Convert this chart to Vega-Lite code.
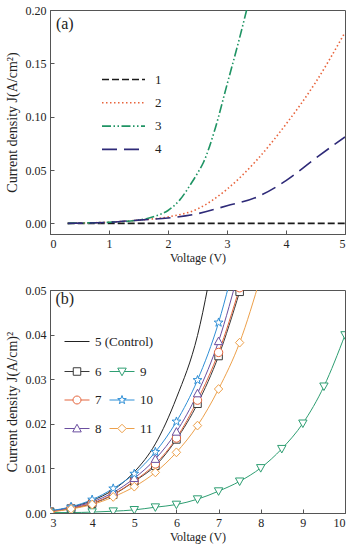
{
  "$schema": "https://vega.github.io/schema/vega-lite/v6.json",
  "background": "white",
  "padding": {"left": 4, "top": 3, "right": 5, "bottom": 3},
  "spacing": 19,
  "config": {
    "font": "Liberation Serif",
    "view": {"stroke": "#555", "strokeWidth": 1},
    "axis": {"grid": false, "domainColor": "#555", "tickColor": "#555", "tickSize": -4, "labelFont": "Liberation Serif", "labelFontSize": 12, "labelColor": "#222", "titleFont": "Liberation Serif", "titleFontSize": 12, "titleFontWeight": "normal", "titleColor": "#222", "labelPadding": 8},
    "legend": {"labelFont": "Liberation Serif", "labelFontSize": 13, "labelColor": "#222"}
  },
  "datasets": {
    "a": [
      {"curve": "1", "v": 0.3, "j": 0}, {"curve": "1", "v": 5, "j": 0},
      {"curve": "2", "v": 0.3, "j": 0}, {"curve": "2", "v": 0.7, "j": 0.0005}, {"curve": "2", "v": 1.0, "j": 0.001}, {"curve": "2", "v": 1.5, "j": 0.003}, {"curve": "2", "v": 2.0, "j": 0.006}, {"curve": "2", "v": 2.5, "j": 0.0135}, {"curve": "2", "v": 3.0, "j": 0.032}, {"curve": "2", "v": 3.5, "j": 0.059}, {"curve": "2", "v": 4.0, "j": 0.093}, {"curve": "2", "v": 4.5, "j": 0.132}, {"curve": "2", "v": 5.0, "j": 0.179},
      {"curve": "3", "v": 0.3, "j": 0}, {"curve": "3", "v": 0.7, "j": 0.0005}, {"curve": "3", "v": 1.0, "j": 0.001}, {"curve": "3", "v": 1.5, "j": 0.003}, {"curve": "3", "v": 1.8, "j": 0.007}, {"curve": "3", "v": 2.0, "j": 0.012}, {"curve": "3", "v": 2.2, "j": 0.022}, {"curve": "3", "v": 2.4, "j": 0.038}, {"curve": "3", "v": 2.5, "j": 0.047}, {"curve": "3", "v": 2.6, "j": 0.057}, {"curve": "3", "v": 2.8, "j": 0.089}, {"curve": "3", "v": 3.0, "j": 0.13}, {"curve": "3", "v": 3.2, "j": 0.171}, {"curve": "3", "v": 3.4, "j": 0.215},
      {"curve": "4", "v": 0.3, "j": 0}, {"curve": "4", "v": 1.0, "j": 0.001}, {"curve": "4", "v": 1.5, "j": 0.003}, {"curve": "4", "v": 2.0, "j": 0.005}, {"curve": "4", "v": 2.5, "j": 0.009}, {"curve": "4", "v": 3.0, "j": 0.0165}, {"curve": "4", "v": 3.5, "j": 0.0245}, {"curve": "4", "v": 4.0, "j": 0.04}, {"curve": "4", "v": 4.5, "j": 0.061}, {"curve": "4", "v": 5.0, "j": 0.081}
    ],
    "b": [
      {"device": "5", "v": 3.0, "j": 0.0004}, {"device": "5", "v": 3.5, "j": 0.0013}, {"device": "5", "v": 4.0, "j": 0.0028}, {"device": "5", "v": 4.5, "j": 0.0052}, {"device": "5", "v": 5.0, "j": 0.0092}, {"device": "5", "v": 5.5, "j": 0.0155}, {"device": "5", "v": 6.0, "j": 0.0258}, {"device": "5", "v": 6.5, "j": 0.0398}, {"device": "5", "v": 7.0, "j": 0.064},
      {"device": "6", "v": 3.0, "j": 0.0003}, {"device": "6", "v": 3.5, "j": 0.001}, {"device": "6", "v": 4.0, "j": 0.0021}, {"device": "6", "v": 4.5, "j": 0.0041}, {"device": "6", "v": 5.0, "j": 0.0071}, {"device": "6", "v": 5.5, "j": 0.0106}, {"device": "6", "v": 6.0, "j": 0.0165}, {"device": "6", "v": 6.5, "j": 0.0245}, {"device": "6", "v": 7.0, "j": 0.0352}, {"device": "6", "v": 7.5, "j": 0.0496},
      {"device": "7", "v": 3.0, "j": 0.0003}, {"device": "7", "v": 3.5, "j": 0.0011}, {"device": "7", "v": 4.0, "j": 0.0022}, {"device": "7", "v": 4.5, "j": 0.0042}, {"device": "7", "v": 5.0, "j": 0.0072}, {"device": "7", "v": 5.5, "j": 0.011}, {"device": "7", "v": 6.0, "j": 0.0168}, {"device": "7", "v": 6.5, "j": 0.0253}, {"device": "7", "v": 7.0, "j": 0.036}, {"device": "7", "v": 7.5, "j": 0.0505},
      {"device": "8", "v": 3.0, "j": 0.0004}, {"device": "8", "v": 3.5, "j": 0.0012}, {"device": "8", "v": 4.0, "j": 0.0025}, {"device": "8", "v": 4.5, "j": 0.0046}, {"device": "8", "v": 5.0, "j": 0.0078}, {"device": "8", "v": 5.5, "j": 0.0121}, {"device": "8", "v": 6.0, "j": 0.0182}, {"device": "8", "v": 6.5, "j": 0.0268}, {"device": "8", "v": 7.0, "j": 0.0385}, {"device": "8", "v": 7.5, "j": 0.055},
      {"device": "9", "v": 3.0, "j": 0.0001}, {"device": "9", "v": 3.5, "j": 0.0001}, {"device": "9", "v": 4.0, "j": 0.0002}, {"device": "9", "v": 4.5, "j": 0.0004}, {"device": "9", "v": 5.0, "j": 0.0007}, {"device": "9", "v": 5.5, "j": 0.0013}, {"device": "9", "v": 6.0, "j": 0.0019}, {"device": "9", "v": 6.5, "j": 0.0031}, {"device": "9", "v": 7.0, "j": 0.0049}, {"device": "9", "v": 7.5, "j": 0.0071}, {"device": "9", "v": 8.0, "j": 0.0101}, {"device": "9", "v": 8.5, "j": 0.0144}, {"device": "9", "v": 9.0, "j": 0.0201}, {"device": "9", "v": 9.5, "j": 0.0284}, {"device": "9", "v": 10.0, "j": 0.0399},
      {"device": "10", "v": 3.0, "j": 0.0005}, {"device": "10", "v": 3.5, "j": 0.0014}, {"device": "10", "v": 4.0, "j": 0.003}, {"device": "10", "v": 4.5, "j": 0.0055}, {"device": "10", "v": 5.0, "j": 0.0088}, {"device": "10", "v": 5.5, "j": 0.0137}, {"device": "10", "v": 6.0, "j": 0.0205}, {"device": "10", "v": 6.5, "j": 0.0298}, {"device": "10", "v": 7.0, "j": 0.0427}, {"device": "10", "v": 7.5, "j": 0.061},
      {"device": "11", "v": 3.0, "j": 0.0002}, {"device": "11", "v": 3.5, "j": 0.0009}, {"device": "11", "v": 4.0, "j": 0.0019}, {"device": "11", "v": 4.5, "j": 0.0036}, {"device": "11", "v": 5.0, "j": 0.0059}, {"device": "11", "v": 5.5, "j": 0.0091}, {"device": "11", "v": 6.0, "j": 0.0136}, {"device": "11", "v": 6.5, "j": 0.0196}, {"device": "11", "v": 7.0, "j": 0.0278}, {"device": "11", "v": 7.5, "j": 0.0382}, {"device": "11", "v": 8.0, "j": 0.053}
    ]
  },
  "vconcat": [
    {
      "width": 295,
      "height": 224,
      "layer": [
        {
          "data": {"name": "a"},
          "mark": {"type": "line", "clip": true, "strokeWidth": 1.6, "interpolate": "monotone"},
          "encoding": {
            "x": {"field": "v", "type": "quantitative", "scale": {"domain": [0, 5], "nice": false, "zero": false},
                  "axis": {"title": "Voltage (V)", "values": [0, 0.5, 1, 1.5, 2, 2.5, 3, 3.5, 4, 4.5, 5], "labelExpr": "datum.value % 1 == 0 ? format(datum.value, 'd') : ''", "titlePadding": 3}},
            "y": {"field": "j", "type": "quantitative", "scale": {"domain": [-0.01, 0.2], "nice": false, "zero": false},
                  "axis": {"title": "Current density J(A/cm²)", "titleFontSize": 14, "values": [0, 0.025, 0.05, 0.075, 0.1, 0.125, 0.15, 0.175, 0.2], "labelExpr": "abs(datum.value*20 - round(datum.value*20)) < 0.001 ? format(datum.value, '.2f') : ''", "titlePadding": 6}},
            "color": {"field": "curve", "type": "nominal",
                      "scale": {"domain": ["1", "2", "3", "4"], "range": ["#1a1a1a", "#e8643c", "#1f9464", "#2e2a78"]},
                      "legend": {"title": null, "orient": "none", "legendX": 51, "legendY": 59, "symbolType": "stroke", "symbolSize": 1849, "symbolStrokeWidth": 1.6, "labelOffset": 9, "clipHeight": 21, "rowPadding": 2.3, "labelFontSize": 13}},
            "strokeDash": {"field": "curve", "type": "nominal",
                           "scale": {"domain": ["1", "2", "3", "4"], "range": [[7, 3], [1.5, 2.5], [9, 2.5, 1.5, 2.5, 1.5, 2.5], [15, 7]]}}
          }
        },
        {
          "data": {"values": [{}]},
          "mark": {"type": "text", "fontSize": 16, "font": "Liberation Serif", "color": "#222"},
          "encoding": {
            "x": {"datum": 0.25, "type": "quantitative"},
            "y": {"datum": 0.187, "type": "quantitative"},
            "text": {"value": "(a)"}
          }
        }
      ]
    },
    {
      "width": 295,
      "height": 223,
      "layer": [
        {
          "data": {"name": "b"},
          "transform": [{"filter": "datum.device == '5'"}],
          "mark": {"type": "line", "clip": true, "strokeWidth": 1, "interpolate": "monotone"},
          "encoding": {
            "x": {"field": "v", "type": "quantitative", "scale": {"domain": [3, 10], "nice": false, "zero": false},
                  "axis": {"title": "Voltage (V)", "values": [3, 4, 5, 6, 7, 8, 9, 10], "format": "d", "titlePadding": 3}},
            "y": {"field": "j", "type": "quantitative", "scale": {"domain": [0, 0.05], "nice": false, "zero": false},
                  "axis": {"title": "Current density J(A/cm)²", "titleFontSize": 14, "values": [0, 0.005, 0.01, 0.015, 0.02, 0.025, 0.03, 0.035, 0.04, 0.045, 0.05], "labelExpr": "abs(datum.value*100 - round(datum.value*100)) < 0.001 ? format(datum.value, '.2f') : ''", "titlePadding": 6}},
            "stroke": {"field": "device", "type": "nominal",
                       "scale": {"domain": ["5"], "range": ["#222222"]},
                       "legend": {"title": null, "orient": "none", "legendX": 14, "legendY": 39, "symbolType": "stroke", "symbolSize": 625, "symbolStrokeWidth": 1, "labelOffset": 5, "clipHeight": 25, "labelFontSize": 13, "labelExpr": "'5   (Control)'"}}
          }
        },
        {
          "data": {"name": "b"},
          "transform": [{"filter": "datum.device != '5'"}],
          "mark": {"type": "line", "clip": true, "strokeWidth": 1, "interpolate": "monotone"},
          "encoding": {
            "x": {"field": "v", "type": "quantitative"},
            "y": {"field": "j", "type": "quantitative"},
            "color": {"field": "device", "type": "nominal",
                      "scale": {"domain": ["6", "7", "8", "9", "10", "11"], "range": ["#3a3a3a", "#e4643c", "#6b4fa0", "#2e9e72", "#2f8fd6", "#eda04a"]},
                      "legend": {"title": null, "orient": "none", "legendX": 14, "legendY": 69, "columns": 2, "columnPadding": 7, "rowPadding": 3.5, "clipHeight": 25, "symbolSize": 625, "symbolStrokeWidth": 1, "labelOffset": 5, "labelFontSize": 13,
                                 "encode": {"symbols": {"update": {
                                   "fill": {"value": "white"},
                                   "fillOpacity": {"value": 1},
                                   "shape": {"signal": "datum.value == '6' ? 'M-1,0H-0.3M0.3,0H1M-0.3,-0.3H0.3V0.3H-0.3Z' : datum.value == '9' ? 'M-1,0H-0.19M0.19,0H1M0,0.34L0.34,-0.27L-0.34,-0.27Z' : datum.value == '7' ? 'M-1,0H-0.32M0.32,0H1M0.32,0A0.32,0.32 0 1,1 -0.32,0A0.32,0.32 0 1,1 0.32,0Z' : datum.value == '10' ? 'M-1,0H-0.15M0.15,0H1M0,-0.36L0.085,-0.117L0.342,-0.111L0.137,0.045L0.212,0.291L0,0.144L-0.212,0.291L-0.137,0.045L-0.342,-0.111L-0.085,-0.117Z' : datum.value == '8' ? 'M-1,0H-0.19M0.19,0H1M0,-0.34L0.34,0.27L-0.34,0.27Z' : 'M-1,0H-0.34M0.34,0H1M0,-0.34L0.34,0L0,0.34L-0.34,0Z'"}
                                 }}}}}
          }
        },
        {
          "data": {"name": "b"},
          "transform": [{"filter": "datum.device == '6'"}],
          "mark": {"type": "point", "clip": true, "filled": false, "fill": "white", "fillOpacity": 1, "strokeWidth": 1, "size": 70, "opacity": 1, "shape": "M-0.9,-0.9H0.9V0.9H-0.9Z"},
          "encoding": {"x": {"field": "v", "type": "quantitative"}, "y": {"field": "j", "type": "quantitative"}, "color": {"field": "device", "type": "nominal"}}
        },
        {
          "data": {"name": "b"},
          "transform": [{"filter": "datum.device == '7'"}],
          "mark": {"type": "point", "clip": true, "filled": false, "fill": "white", "fillOpacity": 1, "strokeWidth": 1, "size": 70, "opacity": 1, "shape": "M1,0A1,1 0 1,1 -1,0A1,1 0 1,1 1,0Z"},
          "encoding": {"x": {"field": "v", "type": "quantitative"}, "y": {"field": "j", "type": "quantitative"}, "color": {"field": "device", "type": "nominal"}}
        },
        {
          "data": {"name": "b"},
          "transform": [{"filter": "datum.device == '8'"}],
          "mark": {"type": "point", "clip": true, "filled": false, "fill": "white", "fillOpacity": 1, "strokeWidth": 1, "size": 70, "opacity": 1, "shape": "M0,-1L1,0.8L-1,0.8Z"},
          "encoding": {"x": {"field": "v", "type": "quantitative"}, "y": {"field": "j", "type": "quantitative"}, "color": {"field": "device", "type": "nominal"}}
        },
        {
          "data": {"name": "b"},
          "transform": [{"filter": "datum.device == '9'"}],
          "mark": {"type": "point", "clip": true, "filled": false, "fill": "white", "fillOpacity": 1, "strokeWidth": 1, "size": 70, "opacity": 1, "shape": "M0,1L1,-0.8L-1,-0.8Z"},
          "encoding": {"x": {"field": "v", "type": "quantitative"}, "y": {"field": "j", "type": "quantitative"}, "color": {"field": "device", "type": "nominal"}}
        },
        {
          "data": {"name": "b"},
          "transform": [{"filter": "datum.device == '10'"}],
          "mark": {"type": "point", "clip": true, "filled": false, "fill": "white", "fillOpacity": 1, "strokeWidth": 1, "size": 70, "opacity": 1, "shape": "M0,-1.1L0.26,-0.36L1.05,-0.34L0.42,0.14L0.65,0.89L0,0.44L-0.65,0.89L-0.42,0.14L-1.05,-0.34L-0.26,-0.36Z"},
          "encoding": {"x": {"field": "v", "type": "quantitative"}, "y": {"field": "j", "type": "quantitative"}, "color": {"field": "device", "type": "nominal"}}
        },
        {
          "data": {"name": "b"},
          "transform": [{"filter": "datum.device == '11'"}],
          "mark": {"type": "point", "clip": true, "filled": false, "fill": "white", "fillOpacity": 1, "strokeWidth": 1, "size": 70, "opacity": 1, "shape": "M0,-1.05L1,0L0,1.05L-1,0Z"},
          "encoding": {"x": {"field": "v", "type": "quantitative"}, "y": {"field": "j", "type": "quantitative"}, "color": {"field": "device", "type": "nominal"}}
        },
        {
          "data": {"values": [{}]},
          "mark": {"type": "text", "fontSize": 16, "font": "Liberation Serif", "color": "#222"},
          "encoding": {
            "x": {"datum": 3.35, "type": "quantitative"},
            "y": {"datum": 0.048, "type": "quantitative"},
            "text": {"value": "(b)"}
          }
        }
      ]
    }
  ],
  "resolve": {"scale": {"color": "independent", "strokeDash": "independent", "stroke": "independent"}}
}
